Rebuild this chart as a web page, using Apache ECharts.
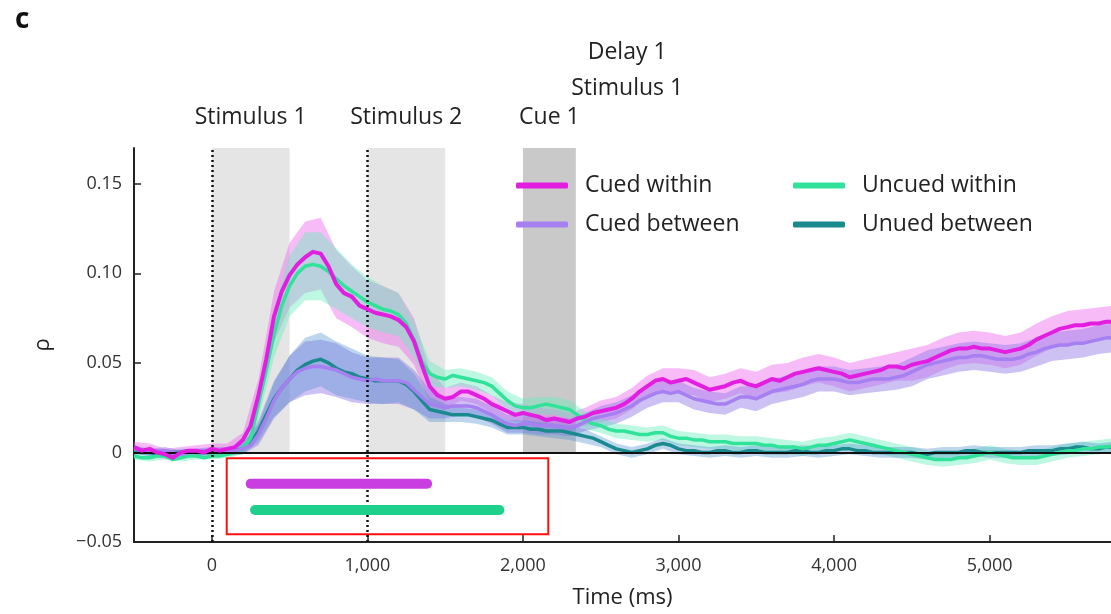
<!DOCTYPE html>
<html>
<head>
<meta charset="utf-8">
<script src="https://cdn.jsdelivr.net/npm/echarts@6/dist/echarts.min.js"></script>
<style>
  html, body { margin: 0; padding: 0; background: #fff; }
  #chart { width: 1111px; height: 614px; }
</style>
</head>
<body>
<div id="chart"></div>
<script>
// Sample times (ms) for the mean traces, one row per 500 ms
const times = [
  -500, -450, -400, -350, -300, -250, -200, -150, -100, -50,
  0, 50, 100, 150, 200, 250, 300, 350, 400, 450,
  500, 550, 600, 650, 700, 750, 800, 850, 900, 950,
  1000, 1050, 1100, 1150, 1200, 1250, 1300, 1350, 1400, 1450,
  1500, 1550, 1600, 1650, 1700, 1750, 1800, 1850, 1900, 1950,
  2000, 2050, 2100, 2150, 2200, 2250, 2300, 2350, 2400, 2450,
  2500, 2550, 2600, 2650, 2700, 2750, 2800, 2850, 2900, 2950,
  3000, 3050, 3100, 3150, 3200, 3250, 3300, 3350, 3400, 3450,
  3500, 3550, 3600, 3650, 3700, 3750, 3800, 3850, 3900, 3950,
  4000, 4050, 4100, 4150, 4200, 4250, 4300, 4350, 4400, 4450,
  4500, 4550, 4600, 4650, 4700, 4750, 4800, 4850, 4900, 4950,
  5000, 5050, 5100, 5150, 5200, 5250, 5300, 5350, 5400, 5450,
  5500, 5550, 5600, 5650, 5700, 5750, 5800];

// Mean correlation (rho) per condition
const cuedWithin = [
  0.003, 0.001, 0.002, 0.000, -0.001, -0.003, 0.000, 0.001, 0.001, 0.000,
  0.002, 0.001, 0.002, 0.003, 0.007, 0.015, 0.032, 0.052, 0.076, 0.090,
  0.099, 0.105, 0.109, 0.112, 0.111, 0.104, 0.094, 0.089, 0.087, 0.082,
  0.080, 0.078, 0.077, 0.076, 0.074, 0.070, 0.062, 0.049, 0.037, 0.032,
  0.030, 0.031, 0.034, 0.034, 0.032, 0.030, 0.027, 0.025, 0.023, 0.021,
  0.022, 0.021, 0.020, 0.018, 0.019, 0.018, 0.017, 0.019, 0.020, 0.022,
  0.023, 0.024, 0.025, 0.027, 0.030, 0.034, 0.037, 0.040, 0.041, 0.039,
  0.040, 0.041, 0.039, 0.037, 0.035, 0.036, 0.037, 0.039, 0.040, 0.038,
  0.037, 0.039, 0.041, 0.040, 0.042, 0.044, 0.045, 0.046, 0.047, 0.046,
  0.045, 0.044, 0.042, 0.043, 0.044, 0.045, 0.046, 0.048, 0.048, 0.047,
  0.049, 0.050, 0.051, 0.053, 0.055, 0.057, 0.058, 0.058, 0.059, 0.058,
  0.058, 0.057, 0.056, 0.057, 0.058, 0.060, 0.063, 0.065, 0.067, 0.069,
  0.070, 0.071, 0.071, 0.072, 0.072, 0.073, 0.073];
const cuedBetween = [
  0.002, 0.001, 0.000, 0.001, 0.001, 0.000, -0.001, 0.000, 0.000, 0.001,
  0.001, 0.000, 0.001, 0.001, 0.002, 0.004, 0.010, 0.019, 0.029, 0.036,
  0.041, 0.045, 0.047, 0.048, 0.048, 0.047, 0.046, 0.044, 0.042, 0.041,
  0.040, 0.041, 0.040, 0.040, 0.040, 0.039, 0.035, 0.031, 0.027, 0.026,
  0.025, 0.026, 0.026, 0.026, 0.025, 0.023, 0.021, 0.018, 0.016, 0.015,
  0.016, 0.016, 0.015, 0.015, 0.015, 0.014, 0.014, 0.015, 0.017, 0.019,
  0.020, 0.021, 0.022, 0.024, 0.026, 0.029, 0.031, 0.033, 0.034, 0.033,
  0.034, 0.032, 0.030, 0.029, 0.028, 0.027, 0.027, 0.029, 0.031, 0.031,
  0.030, 0.032, 0.034, 0.035, 0.036, 0.037, 0.038, 0.040, 0.041, 0.041,
  0.041, 0.040, 0.039, 0.039, 0.040, 0.041, 0.041, 0.041, 0.042, 0.043,
  0.045, 0.047, 0.049, 0.050, 0.051, 0.052, 0.053, 0.053, 0.054, 0.054,
  0.053, 0.052, 0.052, 0.052, 0.053, 0.055, 0.056, 0.058, 0.059, 0.060,
  0.060, 0.061, 0.061, 0.062, 0.063, 0.064, 0.064];
const uncuedWithin = [
  -0.002, -0.003, -0.003, -0.002, -0.002, -0.004, -0.003, -0.002, -0.002, -0.003,
  -0.002, -0.002, -0.001, 0.000, 0.002, 0.008, 0.027, 0.046, 0.066, 0.082,
  0.093, 0.100, 0.104, 0.105, 0.104, 0.101, 0.097, 0.093, 0.090, 0.087,
  0.084, 0.082, 0.080, 0.079, 0.077, 0.072, 0.063, 0.051, 0.044, 0.042,
  0.041, 0.043, 0.042, 0.041, 0.040, 0.039, 0.037, 0.033, 0.029, 0.026,
  0.025, 0.025, 0.026, 0.027, 0.026, 0.025, 0.024, 0.021, 0.018, 0.016,
  0.015, 0.013, 0.012, 0.012, 0.011, 0.010, 0.010, 0.011, 0.011, 0.009,
  0.008, 0.008, 0.007, 0.007, 0.006, 0.006, 0.006, 0.005, 0.005, 0.005,
  0.005, 0.004, 0.004, 0.003, 0.003, 0.003, 0.002, 0.003, 0.004, 0.004,
  0.005, 0.006, 0.007, 0.006, 0.005, 0.004, 0.003, 0.002, 0.001, 0.000,
  -0.001, -0.002, -0.003, -0.004, -0.004, -0.004, -0.003, -0.003, -0.002, -0.001,
  0.000, -0.001, -0.002, -0.003, -0.003, -0.003, -0.003, -0.002, -0.001, 0.000,
  0.001, 0.001, 0.002, 0.002, 0.003, 0.003, 0.004];
const unuedBetween = [
  0.001, 0.000, 0.000, -0.001, -0.001, 0.000, 0.000, 0.001, 0.000, 0.000,
  0.000, 0.000, 0.000, 0.001, 0.002, 0.005, 0.012, 0.021, 0.030, 0.036,
  0.041, 0.046, 0.049, 0.051, 0.052, 0.050, 0.047, 0.045, 0.044, 0.042,
  0.041, 0.040, 0.040, 0.040, 0.040, 0.038, 0.034, 0.029, 0.024, 0.023,
  0.022, 0.021, 0.021, 0.021, 0.020, 0.019, 0.018, 0.016, 0.014, 0.014,
  0.014, 0.013, 0.013, 0.012, 0.012, 0.012, 0.011, 0.010, 0.009, 0.008,
  0.006, 0.004, 0.002, 0.001, 0.000, 0.001, 0.002, 0.004, 0.005, 0.004,
  0.002, 0.001, 0.001, 0.000, 0.000, 0.001, 0.001, 0.000, 0.000, 0.001,
  0.001, 0.000, 0.000, 0.000, 0.000, 0.001, 0.001, 0.000, 0.000, 0.001,
  0.001, 0.002, 0.002, 0.001, 0.001, 0.000, 0.000, 0.000, 0.000, 0.000,
  0.000, -0.001, -0.001, 0.000, 0.000, 0.000, 0.000, 0.001, 0.001, 0.000,
  0.000, 0.000, 0.000, 0.000, 0.000, 0.001, 0.001, 0.001, 0.001, 0.002,
  0.002, 0.003, 0.003, 0.002, 0.002, 0.003, 0.003];

// Standard error half-widths, sampled every 100 ms (one row per 500 ms)
const seTimes = [
  -500, -400, -300, -200, -100,
  0, 100, 200, 300, 400,
  500, 600, 700, 800, 900,
  1000, 1100, 1200, 1300, 1400,
  1500, 1600, 1700, 1800, 1900,
  2000, 2100, 2200, 2300, 2400,
  2500, 2600, 2700, 2800, 2900,
  3000, 3100, 3200, 3300, 3400,
  3500, 3600, 3700, 3800, 3900,
  4000, 4100, 4200, 4300, 4400,
  4500, 4600, 4700, 4800, 4900,
  5000, 5100, 5200, 5300, 5400,
  5500, 5600, 5700, 5800];
const cuedWithinSE = [
  0.003, 0.003, 0.003, 0.003, 0.003,
  0.003, 0.003, 0.004, 0.009, 0.014,
  0.018, 0.020, 0.020, 0.019, 0.017,
  0.016, 0.016, 0.015, 0.013, 0.009,
  0.006, 0.005, 0.005, 0.005, 0.005,
  0.005, 0.005, 0.005, 0.005, 0.005,
  0.006, 0.006, 0.006, 0.006, 0.006,
  0.007, 0.007, 0.007, 0.007, 0.007,
  0.008, 0.008, 0.008, 0.008, 0.008,
  0.008, 0.008, 0.008, 0.008, 0.008,
  0.009, 0.009, 0.009, 0.009, 0.009,
  0.009, 0.009, 0.009, 0.009, 0.009,
  0.009, 0.009, 0.009, 0.009];
const cuedBetweenSE = [
  0.002, 0.002, 0.002, 0.002, 0.002,
  0.002, 0.002, 0.003, 0.006, 0.010,
  0.013, 0.015, 0.015, 0.015, 0.014,
  0.013, 0.013, 0.013, 0.011, 0.008,
  0.006, 0.005, 0.005, 0.005, 0.005,
  0.005, 0.005, 0.005, 0.005, 0.005,
  0.006, 0.006, 0.006, 0.006, 0.006,
  0.006, 0.006, 0.006, 0.006, 0.006,
  0.007, 0.007, 0.007, 0.007, 0.007,
  0.007, 0.007, 0.007, 0.007, 0.007,
  0.008, 0.008, 0.008, 0.008, 0.008,
  0.008, 0.008, 0.008, 0.008, 0.008,
  0.008, 0.008, 0.008, 0.008];
const uncuedWithinSE = [
  0.002, 0.002, 0.002, 0.002, 0.002,
  0.002, 0.002, 0.003, 0.008, 0.013,
  0.017, 0.019, 0.019, 0.017, 0.015,
  0.014, 0.013, 0.012, 0.010, 0.007,
  0.005, 0.005, 0.005, 0.005, 0.005,
  0.005, 0.005, 0.005, 0.005, 0.005,
  0.004, 0.004, 0.004, 0.004, 0.004,
  0.004, 0.004, 0.004, 0.004, 0.004,
  0.004, 0.004, 0.004, 0.004, 0.004,
  0.004, 0.004, 0.004, 0.004, 0.004,
  0.004, 0.004, 0.004, 0.004, 0.004,
  0.004, 0.004, 0.004, 0.004, 0.004,
  0.004, 0.004, 0.004, 0.004];
const unuedBetweenSE = [
  0.002, 0.002, 0.002, 0.002, 0.002,
  0.002, 0.002, 0.003, 0.006, 0.010,
  0.013, 0.015, 0.015, 0.015, 0.014,
  0.013, 0.013, 0.012, 0.010, 0.007,
  0.005, 0.004, 0.004, 0.004, 0.004,
  0.004, 0.004, 0.004, 0.004, 0.004,
  0.003, 0.003, 0.003, 0.003, 0.003,
  0.003, 0.003, 0.003, 0.003, 0.003,
  0.003, 0.003, 0.003, 0.003, 0.003,
  0.003, 0.003, 0.003, 0.003, 0.003,
  0.003, 0.003, 0.003, 0.003, 0.003,
  0.003, 0.003, 0.003, 0.003, 0.003,
  0.003, 0.003, 0.003, 0.003];

// Task epochs (ms)
const epochNames = ['Stimulus 1', 'Stimulus 2', 'Cue 1'];
const epochStart = [0, 1000, 2000];
const epochEnd = [500, 1500, 2340];
const nextEpochLabel = 'Delay 1\nStimulus 1';
const nextEpochSpan = [2340, 3000];
const stimulusOnsets = [0, 1000];

// Significant clusters (ms) and the row they are drawn on
const sigCuedWithin = [250, 1384];
const sigUncuedWithin = [278, 1849];
const sigRows = [-0.0175, -0.0321];
const highlightTimes = [96, 2163];
const highlightRho = [-0.0033, -0.0457];

// Axis ticks
const xTicks = [0, 1000, 2000, 3000, 4000, 5000];
const yTicks = [-0.05, 0, 0.05, 0.1, 0.15];

const FONT = '"Open Sans", "Noto Sans", sans-serif';
const C = {
  cw: '#e21fe0', cb: '#a67ff0', uw: '#31e39a', ub: '#1b8a8e',
  cwBand: 'rgba(238,115,238,0.48)', cbBand: 'rgba(150,125,232,0.48)',
  uwBand: 'rgba(100,235,185,0.42)', ubBand: 'rgba(75,140,205,0.36)'
};

function pairs(mean) { return times.map((t, i) => [t, mean[i]]); }

// Shaded mean +/- SE band drawn as one polygon through the axis scales
function band(name, mean, se, fill) {
  return {
    type: 'custom', name: name, z: 2, silent: true, clip: true,
    data: pairs(mean),
    encode: { x: 0, y: 1 },
    renderItem: function (params, api) {
      if (params.dataIndex !== 0) return null;
      const up = [], lo = [];
      seTimes.forEach((t, k) => {
        const m = mean[times.indexOf(t)];
        up.push(api.coord([t, m + se[k]]));
        lo.push(api.coord([t, m - se[k]]));
      });
      return { type: 'polygon', shape: { points: up.concat(lo.reverse()) }, style: { fill: fill } };
    }
  };
}

function trace(name, mean, color, z, width) {
  return {
    type: 'line', name: name, data: pairs(mean), z: z, showSymbol: false, symbol: 'none',
    lineStyle: { color: color, width: width, join: 'round' }, itemStyle: { color: color }
  };
}

const epochAreas = epochNames.map((n, i) => [
  { name: n, xAxis: epochStart[i], yAxis: 0, itemStyle: { color: i === 2 ? '#c9c9c9' : '#e5e5e5' } },
  { xAxis: epochEnd[i], yAxis: 0.17 }
]);
epochAreas.push([
  { name: nextEpochLabel, xAxis: nextEpochSpan[0], yAxis: 0, itemStyle: { color: 'rgba(0,0,0,0)' },
    label: { distance: 42, lineHeight: 36 } },
  { xAxis: nextEpochSpan[1], yAxis: 0.17 }
]);

const legendText = { fontSize: 23, color: '#222', fontFamily: FONT, lineHeight: 22, padding: [0, 0, 0, 12] };

const chart = echarts.init(document.getElementById('chart'), null, { renderer: 'canvas' });
chart.setOption({
  animation: false,
  backgroundColor: '#ffffff',
  textStyle: { fontFamily: FONT },
  grid: { left: 134, right: 0, top: 148, bottom: 68, containLabel: false },
  graphic: [{ type: 'text', left: 15, top: 6, style: { text: 'c', font: 'bold 28px ' + FONT, fill: '#111' } }],
  legend: [
    { data: ['Cued within', 'Cued between'], orient: 'vertical', left: 516, top: 174, padding: 0, itemGap: 16,
      itemWidth: 52, itemHeight: 6, icon: 'roundRect', textStyle: legendText },
    { data: ['Uncued within', 'Unued between'], orient: 'vertical', left: 793, top: 174, padding: 0, itemGap: 16,
      itemWidth: 52, itemHeight: 6, icon: 'roundRect', textStyle: legendText }
  ],
  xAxis: {
    type: 'value', min: -500, max: 5780,
    name: 'Time (ms)', nameLocation: 'middle', nameGap: 45,
    nameTextStyle: { fontSize: 22, color: '#222', fontFamily: FONT },
    axisLine: { onZero: false, lineStyle: { color: '#222', width: 2 } },
    axisTick: { inside: true, length: 7, customValues: xTicks, lineStyle: { color: '#222', width: 1.5 } },
    axisLabel: { customValues: xTicks, fontSize: 18, color: '#333', margin: 15, fontFamily: FONT,
      formatter: v => v.toLocaleString('en-US') },
    splitLine: { show: false }
  },
  yAxis: {
    type: 'value', min: -0.05, max: 0.17,
    name: 'ρ', nameLocation: 'middle', nameGap: 80, nameRotate: 90,
    nameTextStyle: { fontSize: 22, color: '#222', fontFamily: FONT },
    axisLine: { show: true, onZero: false, lineStyle: { color: '#222', width: 2 } },
    axisTick: { show: true, inside: true, length: 7, customValues: yTicks, lineStyle: { color: '#222', width: 1.5 } },
    axisLabel: { customValues: yTicks, fontSize: 18, color: '#333', margin: 12, fontFamily: FONT,
      formatter: v => Math.abs(v) < 1e-9 ? '0' : (v < 0 ? '\u2212' + Math.abs(v).toFixed(2) : v.toFixed(2)) },
    splitLine: { show: false }
  },
  series: [
    {
      type: 'line', name: 'epochs', data: [], z: 1, silent: true,
      markArea: {
        silent: true,
        label: { show: true, position: 'top', distance: 18, fontSize: 23, color: '#222', fontFamily: FONT, lineHeight: 26 },
        data: epochAreas
      }
    },
    band('cwBand', cuedWithin, cuedWithinSE, C.cwBand),
    band('cbBand', cuedBetween, cuedBetweenSE, C.cbBand),
    band('uwBand', uncuedWithin, uncuedWithinSE, C.uwBand),
    band('ubBand', unuedBetween, unuedBetweenSE, C.ubBand),
    {
      type: 'line', name: 'refs', data: [], z: 3, silent: true,
      markLine: {
        silent: true, symbol: 'none', label: { show: false },
        data: [
          { yAxis: 0, lineStyle: { color: '#111', width: 2, type: 'solid' } },
          ...stimulusOnsets.map(t => ({ xAxis: t, lineStyle: { color: '#111', width: 2.5, type: [2, 3] } }))
        ]
      }
    },
    trace('Unued between', unuedBetween, C.ub, 4, 3.5),
    trace('Uncued within', uncuedWithin, C.uw, 4, 3.5),
    trace('Cued between', cuedBetween, C.cb, 4, 3.5),
    trace('Cued within', cuedWithin, C.cw, 5, 4),
    {
      type: 'line', name: 'sigCued', z: 6, silent: true, symbol: 'none',
      data: sigCuedWithin.map(t => [t, sigRows[0]]),
      lineStyle: { color: '#c93ee0', width: 10, cap: 'round' },
      markArea: {
        silent: true,
        itemStyle: { color: 'rgba(0,0,0,0)', borderColor: '#ff1010', borderWidth: 2 },
        data: [[{ xAxis: highlightTimes[0], yAxis: highlightRho[0] },
                { xAxis: highlightTimes[1], yAxis: highlightRho[1] }]]
      }
    },
    {
      type: 'line', name: 'sigUncued', z: 6, silent: true, symbol: 'none',
      data: sigUncuedWithin.map(t => [t, sigRows[1]]),
      lineStyle: { color: '#1fcf8c', width: 10, cap: 'round' }
    }
  ]
});
</script>
</body>
</html>
